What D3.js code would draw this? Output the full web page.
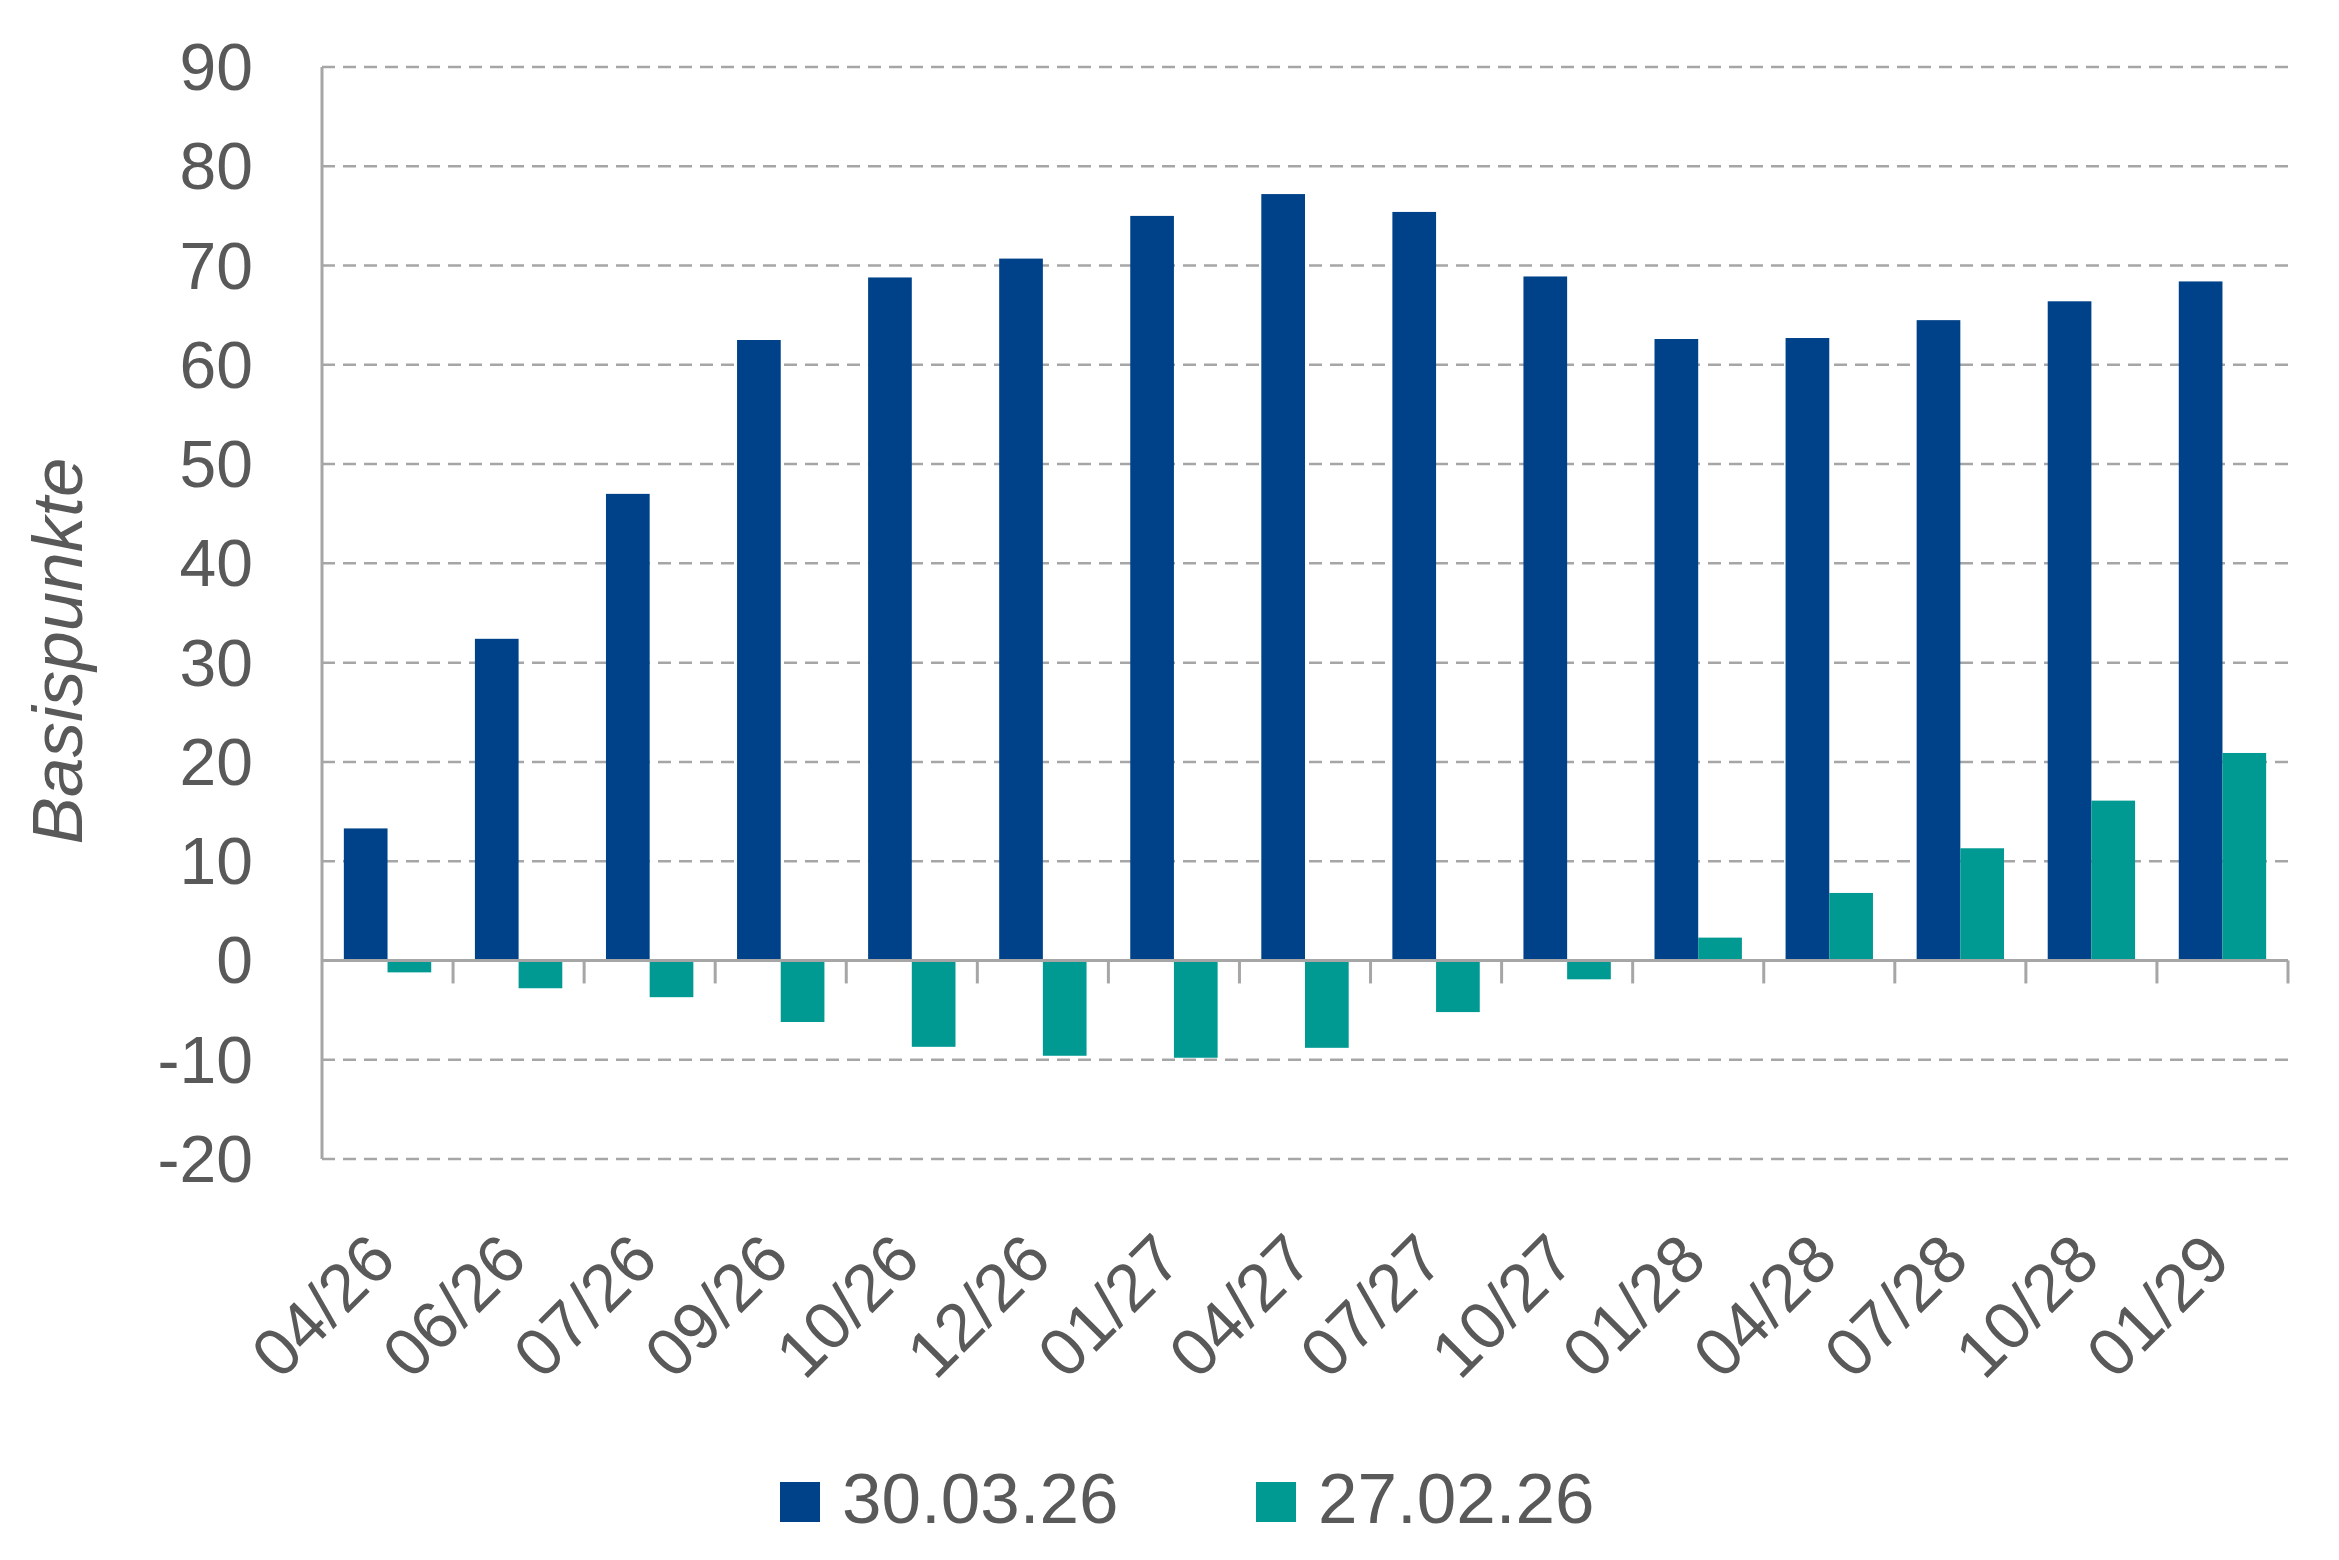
<!DOCTYPE html>
<html>
<head>
<meta charset="utf-8">
<script src="https://cdn.jsdelivr.net/npm/d3@7"></script>
<style>
  html, body { margin: 0; padding: 0; background: #ffffff; }
  svg { display: block; }
</style>
</head>
<body>
<svg id="chart" width="2339" height="1560"></svg>
<script>
const categories = ["04/26","06/26","07/26","09/26","10/26","12/26","01/27","04/27","07/27","10/27","01/28","04/28","07/28","10/28","01/29"];
const seriesNames = ["30.03.26", "27.02.26"];
const values_30_03_26 = [13.3, 32.4, 47.0, 62.5, 68.8, 70.7, 75.0, 77.2, 75.4, 68.9, 62.6, 62.7, 64.5, 66.4, 68.4];
const values_27_02_26 = [-1.2, -2.8, -3.7, -6.2, -8.7, -9.6, -9.8, -8.8, -5.2, -1.9, 2.3, 6.8, 11.3, 16.1, 20.9];
const yTicks = [-20, -10, 0, 10, 20, 30, 40, 50, 60, 70, 80, 90];
const yTitle = "Basispunkte";

(function () {
const colors = ["#00428A", "#009A93"];
const textColor = "#595959";
const gridColor = "#A6A6A6";
const font = "'Liberation Sans', Arial, sans-serif";

const svg = d3.select("#chart");
const pLeft = 322, pRight = 2288, pTop = 67, pBottom = 1159;

const x = d3.scaleBand().domain(categories).range([pLeft, pRight]).paddingInner(0).paddingOuter(0);
const x1 = d3.scaleBand().domain(seriesNames).range([0, x.bandwidth()]).paddingInner(0).paddingOuter(0.5);
const y = d3.scaleLinear().domain([-20, 90]).range([pBottom, pTop]);

// gridlines
svg.append("g").selectAll("line").data(yTicks.filter(t => t !== 0)).join("line")
  .attr("x1", pLeft).attr("x2", pRight)
  .attr("y1", d => y(d)).attr("y2", d => y(d))
  .attr("stroke", gridColor).attr("stroke-width", 2.5)
  .attr("stroke-dasharray", "13,8");

// y tick labels
svg.append("g").selectAll("text").data(yTicks).join("text")
  .attr("x", 253).attr("y", d => y(d))
  .attr("text-anchor", "end").attr("dominant-baseline", "central")
  .attr("font-family", font).attr("font-size", 66).attr("fill", textColor)
  .text(d => d);

// bars
const series = [values_30_03_26, values_27_02_26];
series.forEach((vals, si) => {
  svg.append("g").selectAll("rect").data(vals).join("rect")
    .attr("x", (d, i) => x(categories[i]) + x1(seriesNames[si]))
    .attr("width", x1.bandwidth())
    .attr("y", d => y(Math.max(0, d)))
    .attr("height", d => Math.abs(y(d) - y(0)))
    .attr("fill", colors[si]);
});

// axes lines
svg.append("line").attr("x1", pLeft).attr("x2", pLeft).attr("y1", pTop).attr("y2", pBottom)
  .attr("stroke", gridColor).attr("stroke-width", 3);
svg.append("line").attr("x1", pLeft).attr("x2", pRight).attr("y1", y(0)).attr("y2", y(0))
  .attr("stroke", gridColor).attr("stroke-width", 3);
// tick marks at band boundaries
svg.append("g").selectAll("line").data(categories).join("line")
  .attr("x1", d => x(d) + x.bandwidth()).attr("x2", d => x(d) + x.bandwidth())
  .attr("y1", y(0)).attr("y2", y(0) + 23)
  .attr("stroke", gridColor).attr("stroke-width", 3);

// x labels
svg.append("g").selectAll("text").data(categories).join("text")
  .attr("transform", d => `translate(${x(d) + x.bandwidth() / 2 + 11},1263) rotate(-45)`)
  .attr("text-anchor", "end")
  .attr("font-family", font).attr("font-size", 67).attr("fill", textColor)
  .text(d => d);

// y title
svg.append("text")
  .attr("transform", "translate(82,651) rotate(-90)")
  .attr("text-anchor", "middle")
  .attr("font-family", font).attr("font-style", "italic").attr("font-size", 71).attr("fill", textColor)
  .text(yTitle);

// legend
const legendX = [780, 1256];
seriesNames.forEach((name, i) => {
  svg.append("rect").attr("x", legendX[i]).attr("y", 1482).attr("width", 40).attr("height", 40).attr("fill", colors[i]);
  svg.append("text").attr("x", legendX[i] + 62).attr("y", 1523)
    .attr("font-family", font).attr("font-size", 71).attr("fill", textColor)
    .text(name);
});
})();
</script>
</body>
</html>
